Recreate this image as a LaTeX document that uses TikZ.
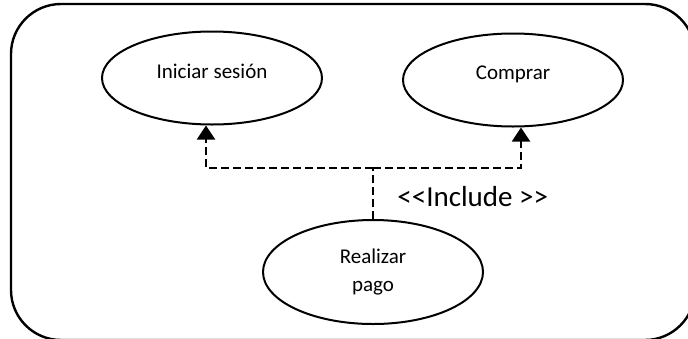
\documentclass[tikz,border=0pt]{standalone}
\usepackage{fontspec}
\setmainfont{Carlito}
\usepackage{tikz}
\usetikzlibrary{shapes.geometric}
\usetikzlibrary{arrows.meta}
\usetikzlibrary{positioning}

\begin{document}
\begin{tikzpicture}
    [
    x=0.5pt,y=-0.5pt,
    usecase/.style={ellipse,draw,line width=1pt,inner sep=0pt,minimum width=110pt,minimum height=46.5pt,font=\fontsize{10.5}{14}\selectfont},
    incl/.style={dashed,dash pattern=on 4pt off 2pt,line width=1pt},
    ]
    \useasboundingbox (0,0) rectangle (688,338);
    \clip (0,0) rectangle (688,338);
    \draw [line width=1.2pt,rounded corners=25pt] (11,4) rectangle (695,340);

    \node (ses) at (212,78) [usecase,text depth=7pt] {Iniciar sesión};
    \node (comp) at (513,80) [usecase,text depth=7pt] {Comprar};
    \node (pago) at (373,272) [usecase,minimum height=52pt,align=center] {Realizar\\pago};

    \coordinate (j) at (pago.north |- 0,168);
    \draw [incl] (pago.north) to (j);
    \draw [incl,-{Triangle[width=9pt,length=7pt]}] (j) -| ([xshift=-3pt]ses.south);
    \draw [incl,-{Triangle[width=9pt,length=7pt]}] (j) -| ([xshift=4pt]comp.south);

    \node (inc) at (397,197) [anchor=west,inner sep=0pt,font=\fontsize{14.5}{16}\selectfont] {<\kern0pt<Include >\kern0pt>};
  \end{tikzpicture}
\end{document}
